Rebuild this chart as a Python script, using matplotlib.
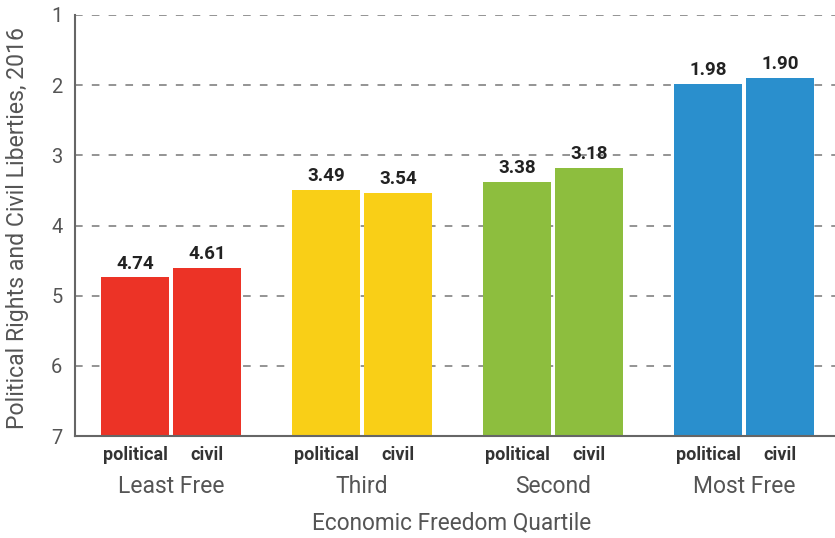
import numpy as np
import matplotlib
matplotlib.use("Agg")
import matplotlib.pyplot as plt
from matplotlib.transforms import blended_transform_factory

# данные
groups = ["Least Free", "Third", "Second", "Most Free"]
political = [4.74, 3.49, 3.38, 1.98]
civil = [4.61, 3.54, 3.18, 1.90]
colors = ["#EC3326", "#F9CF17", "#8DBE3E", "#2A8FCD"]
bar_labels = ["political", "civil"]

plt.rcParams["font.family"] = ["Roboto", "DejaVu Sans"]

W, H = 835, 538
fig = plt.figure(figsize=(W / 100, H / 100), dpi=100)
ax = fig.add_axes([75 / W, 1 - 436 / H, 1 - 75 / W, 421 / H])

x = np.arange(len(groups))
w = 0.356
off = 0.188
base = 7

ax.set_axisbelow(True)
for i in range(len(groups)):
    for vals, d in [(political, -off), (civil, off)]:
        v = vals[i]
        ax.bar(x[i] + d, v - base, bottom=base, width=w, color=colors[i],
               edgecolor="none", zorder=2)
        ax.text(x[i] + d, v - 0.07, f"{v:.2f}", ha="center", va="bottom",
                fontsize=13.5, fontweight="bold", color="#222222")

ax.set_ylim(7, 1)
ax.set_xlim(-0.503, 3.476)
ax.set_yticks(range(1, 8))
ax.tick_params(axis="y", length=0, pad=9, labelsize=14.5, labelcolor="#555555")

ticks = np.concatenate([x - off, x + off])
ax.set_xticks(ticks)
ax.set_xticklabels(bar_labels[:1] * 4 + bar_labels[1:] * 4)
ax.tick_params(axis="x", length=0, pad=7, labelsize=13)
for lbl in ax.get_xticklabels():
    lbl.set_fontweight("bold")
    lbl.set_color("#333333")

trans = blended_transform_factory(ax.transData, ax.transAxes)
for i, g in enumerate(groups):
    ax.text(x[i], -0.121, g, transform=trans, ha="center", va="center",
            fontsize=16.5, color="#555555")

fig.text(452 / W, 1 - 523 / H, "Economic Freedom Quartile", ha="center", va="center",
         fontsize=16.3, color="#555555")
fig.text(18 / W, 1 - 228 / H, "Political Rights and Civil Liberties, 2016",
         rotation=90, ha="center", va="center", fontsize=16.6, color="#555555")

ax.grid(axis="y", linestyle=(0, (5, 6)), color="#777777", linewidth=1.1, zorder=0)
for s in ["top", "right"]:
    ax.spines[s].set_visible(False)
for s in ["left", "bottom"]:
    ax.spines[s].set_color("#666666")
    ax.spines[s].set_linewidth(1.5)

fig.savefig("out.png", dpi=100)
